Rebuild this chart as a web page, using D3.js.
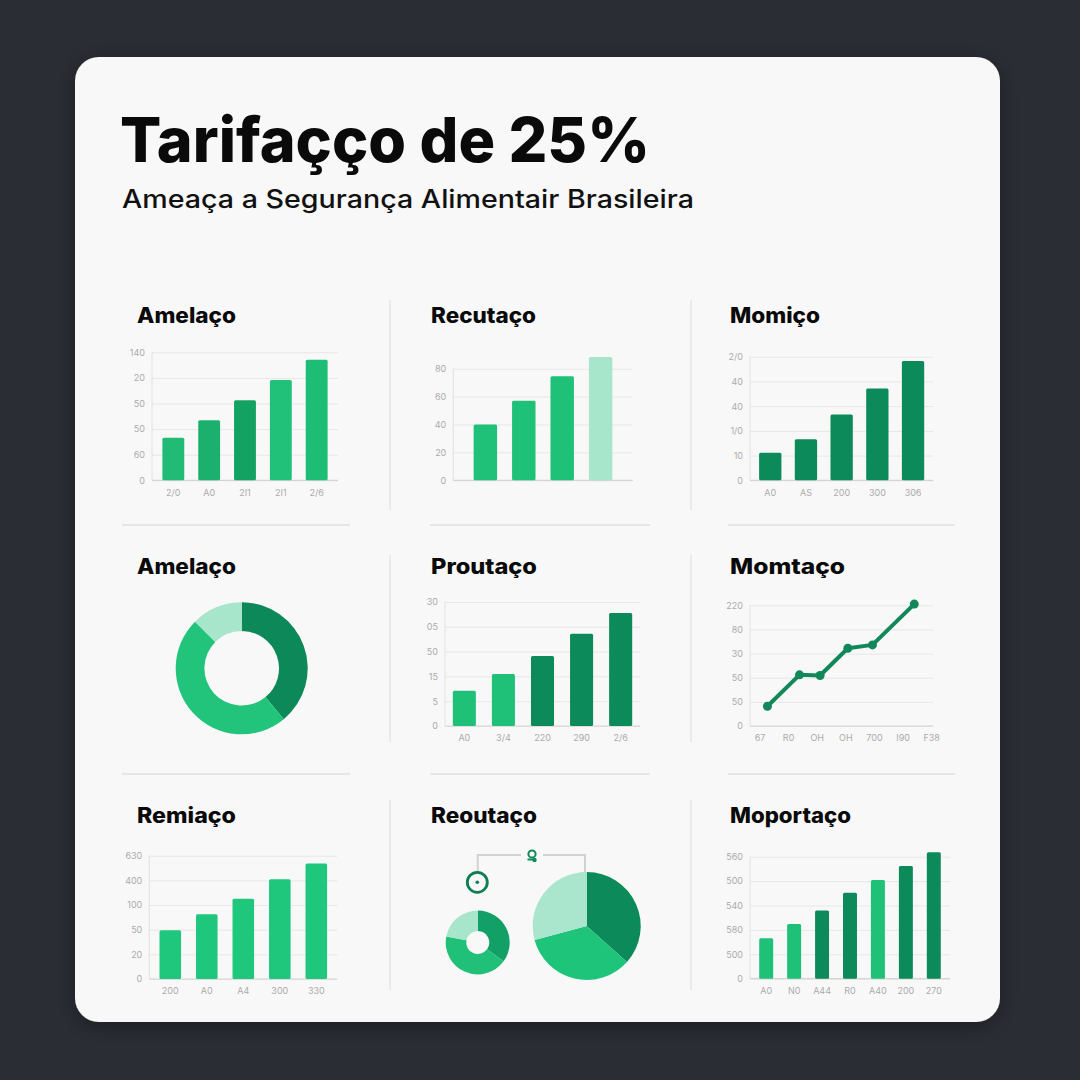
<!DOCTYPE html>
<html>
<head>
<meta charset="utf-8">
<script src="https://cdn.jsdelivr.net/npm/d3@7/dist/d3.min.js"></script>
<style>
  body { margin: 0; background: #2a2d34; }
  svg { display: block; }
  .tick text { font-family: Inter, "Noto Sans", sans-serif; }
</style>
</head>
<body>
<div id="chart"></div>
<script>
// ---------------- data ----------------
const mainTitle = 'Tarifaçço de 25%';
const subTitle = 'Ameaça a Segurança Alimentair Brasileira';
const panelTitles = ['Amelaço', 'Recutaço', 'Momiço', 'Amelaço', 'Proutaço', 'Momtaço', 'Remiaço', 'Reoutaço', 'Moportaço'];

// panel 1 - bars
const p1Cats = ['2/0', 'A0', '2I1', '2I1', '2/6'];
const p1Values = [16.6, 23.5, 31.3, 39.2, 47.1];
const p1Ticks = ['0', '60', '50', '50', '20', '140'];

// panel 2 - bars
const p2Cats = ['', '', '', ''];
const p2Values = [40, 57.1, 74.5, 88.3];
const p2Ticks = ['0', '20', '40', '60', '80'];

// panel 3 - bars
const p3Cats = ['A0', 'AS', '200', '300', '306'];
const p3Values = [11.1, 16.6, 26.6, 37.1, 48.3];
const p3Ticks = ['0', '10', '1/0', '40', '40', '2/0'];

// panel 4 - donut
const p4Values = [39, 48.5, 12.5];

// panel 5 - bars
const p5Cats = ['A0', '3/4', '220', '290', '2/6'];
const p5Values = [7.1, 10.5, 14.1, 18.6, 22.8];
const p5Ticks = ['0', '5', '15', '50', '05', '30'];

// panel 6 - line
const p6Cats = ['67', 'R0', 'OH', 'OH', '700', 'I90', 'F38'];
const p6X = [0.26, 1.38, 2.1, 3.07, 3.93, 5.39];
const p6Values = [8.2, 21.2, 20.9, 32.2, 33.6, 50.5];
const p6Ticks = ['0', '50', '50', '30', '80', '220'];

// panel 7 - bars
const p7Cats = ['200', 'A0', 'A4', '300', '330'];
const p7Values = [19.8, 26.3, 32.5, 40.4, 46.8];
const p7Ticks = ['0', '20', '50', '100', '400', '630'];

// panel 8 - small donut + pie
const p8SmallValues = [35, 43, 22];
const p8PieValues = [36.6, 34.2, 29.2];

// panel 9 - bars
const p9Cats = ['A0', 'N0', 'A44', 'R0', 'A40', '200', '270'];
const p9Values = [16.6, 22.4, 28, 35.2, 40.4, 46.2, 51.8];
const p9Ticks = ['0', '500', '580', '540', '500', '560'];

// ---------------- colours / layout ----------------
const DARK = '#0d8a5a', MID = '#1fc078', LIGHT = '#a8e6cc';
const TICK = '#ababab';
const titleX = [137, 431, 730];
const titleY = [323, 574, 823];
const titleW = [99, 105, 90, 99, 106, 115, 99, 106, 121];

const svg = d3.select('#chart').append('svg')
    .attr('width', 1080).attr('height', 1080);

svg.append('rect').attr('width', 1080).attr('height', 1080).attr('fill', '#2a2d34');

// card shadow + card
const defs = svg.append('defs');
const f = defs.append('filter').attr('id', 'shadow').attr('x', -0.1).attr('y', -0.1).attr('width', 1.2).attr('height', 1.2);
f.append('feDropShadow').attr('dx', 0).attr('dy', 4).attr('stdDeviation', 10).attr('flood-color', '#000').attr('flood-opacity', 0.35);

svg.append('rect')
    .attr('x', 75).attr('y', 57).attr('width', 925).attr('height', 965)
    .attr('rx', 24).attr('fill', '#f8f8f8')
    .attr('filter', 'url(#shadow)');

// titles
svg.append('text')
    .attr('x', 120).attr('y', 162)
    .attr('textLength', 530).attr('lengthAdjust', 'spacingAndGlyphs')
    .style('font-family', 'Inter, sans-serif').style('font-weight', 800)
    .style('font-size', '62px').style('fill', '#0a0a0a')
    .text(mainTitle);

svg.append('text')
    .attr('x', 122).attr('y', 208)
    .attr('textLength', 572).attr('lengthAdjust', 'spacingAndGlyphs')
    .style('font-family', 'Inter, sans-serif').style('font-weight', 500)
    .style('font-size', '25px').style('fill', '#111')
    .text(subTitle);

// separators
const sepColor = '#e6e6e6';
[[122, 350], [430, 650], [728, 955]].forEach(s => {
    [525, 774].forEach(y => {
        svg.append('line').attr('x1', s[0]).attr('x2', s[1]).attr('y1', y).attr('y2', y)
            .attr('stroke', sepColor).attr('stroke-width', 2);
    });
});
[390, 691].forEach(x => {
    [[300, 510], [555, 742], [800, 990]].forEach(r => {
        svg.append('line').attr('x1', x).attr('x2', x).attr('y1', r[0]).attr('y2', r[1])
            .attr('stroke', sepColor).attr('stroke-width', 1.5);
    });
});

// panel titles
panelTitles.forEach((t, i) => {
    svg.append('text')
        .attr('x', titleX[i % 3]).attr('y', titleY[Math.floor(i / 3)])
        .attr('textLength', titleW[i]).attr('lengthAdjust', 'spacingAndGlyphs')
        .style('font-family', 'Inter, sans-serif').style('font-weight', 800)
        .style('font-size', '21px').style('fill', '#0a0a0a')
        .text(t);
});

////////////////////////////////////////////////////////
function yAxisGrid(g, y, tickLabels, step, x0, x1) {
    const vals = tickLabels.map((d, i) => i * step);
    const ax = g.append('g')
        .attr('transform', 'translate(' + x0 + ',0)')
        .call(d3.axisLeft(y).tickValues(vals).tickSize(-(x1 - x0)).tickPadding(7)
            .tickFormat((d, i) => tickLabels[i]));
    ax.select('.domain').remove();
    ax.selectAll('.tick line').attr('stroke', '#e7e7e7').attr('stroke-width', 1);
    ax.selectAll('.tick text').style('font-size', '9px').style('fill', TICK);
    // baseline + left line
    g.append('line').attr('x1', x0).attr('x2', x1).attr('y1', y(0)).attr('y2', y(0))
        .attr('stroke', '#d4d4d4').attr('stroke-width', 1.2);
    g.append('line').attr('x1', x0).attr('x2', x0).attr('y1', y(0)).attr('y2', y(vals[vals.length - 1]))
        .attr('stroke', '#e2e2e2').attr('stroke-width', 1);
}

function barPanel(cfg) {
    const g = svg.append('g');
    const y = d3.scaleLinear().domain([0, cfg.max]).range([cfg.yBase, cfg.yTop]);
    const x = d3.scaleBand()
        .domain(cfg.values.map((d, i) => i))
        .range([cfg.x0, cfg.x1])
        .paddingInner(cfg.pi).paddingOuter(cfg.po);

    yAxisGrid(g, y, cfg.ticks, cfg.step, cfg.x0, cfg.x1);

    if (cfg.cats.some(c => c !== '')) {
        const xa = g.append('g')
            .attr('transform', 'translate(0,' + cfg.yBase + ')')
            .call(d3.axisBottom(x).tickSize(0).tickPadding(9).tickFormat(i => cfg.cats[i]));
        xa.select('.domain').remove();
        xa.selectAll('.tick text').style('font-size', '9px').style('fill', TICK);
    }

    g.selectAll('.bar')
        .data(cfg.values)
        .enter().append('rect')
        .attr('x', (d, i) => x(i))
        .attr('width', x.bandwidth())
        .attr('y', d => y(d))
        .attr('height', d => y(0) - y(d))
        .attr('rx', 1.5)
        .style('fill', (d, i) => cfg.colors[i]);
}

function donut(cx, cy, r0, r1, values, colors) {
    const pie = d3.pie().sort(null).value(d => d);
    const arc = d3.arc().innerRadius(r0).outerRadius(r1);
    svg.append('g').attr('transform', 'translate(' + cx + ',' + cy + ')')
        .selectAll('path')
        .data(pie(values))
        .enter().append('path')
        .attr('d', arc)
        .style('fill', (d, i) => colors[i]);
}

// ---------------- row 1 ----------------
barPanel({
    x0: 152, x1: 338, yTop: 352.3, yBase: 480.3, max: 50, step: 10, pi: 0.39, po: 0.29,
    values: p1Values, cats: p1Cats, ticks: p1Ticks,
    colors: ['#22bb75', '#1bb06d', '#14a263', '#21c179', '#1ebd76']
});

barPanel({
    x0: 453.3, x1: 632.7, yTop: 368.7, yBase: 480.3, max: 80, step: 20, pi: 0.39, po: 0.53,
    values: p2Values, cats: p2Cats, ticks: p2Ticks,
    colors: [MID, MID, MID, LIGHT]
});

barPanel({
    x0: 750, x1: 933.3, yTop: 356.7, yBase: 480.3, max: 50, step: 10, pi: 0.375, po: 0.255,
    values: p3Values, cats: p3Cats, ticks: p3Ticks,
    colors: p3Values.map(() => DARK)
});

// ---------------- row 2 ----------------
donut(241.7, 668.3, 37.3, 66, p4Values, ['#0c8859', '#22c47c', LIGHT]);

barPanel({
    x0: 445, x1: 640, yTop: 602, yBase: 726, max: 25, step: 5, pi: 0.41, po: 0.2,
    values: p5Values, cats: p5Cats, ticks: p5Ticks,
    colors: [MID, MID, DARK, DARK, DARK]
});

// line panel
(function () {
    const g = svg.append('g');
    const x0 = 750, x1 = 933.3;
    const y = d3.scaleLinear().domain([0, 50]).range([726, 605.3]);
    const x = d3.scaleLinear().domain([0, 6]).range([760, 931.7]);
    yAxisGrid(g, y, p6Ticks, 10, x0, x1);

    g.selectAll('.xl')
        .data(p6Cats)
        .enter().append('text')
        .attr('x', (d, i) => x(i))
        .attr('y', 741)
        .attr('text-anchor', 'middle')
        .style('font-family', 'Inter, sans-serif')
        .style('font-size', '9px').style('fill', TICK)
        .text(d => d);

    const pts = p6Values.map((v, i) => [p6X[i], v]);
    g.append('path')
        .datum(pts)
        .attr('d', d3.line().x(d => x(d[0])).y(d => y(d[1])))
        .attr('fill', 'none').attr('stroke', '#12875a').attr('stroke-width', 4)
        .attr('stroke-linejoin', 'round');
    g.selectAll('circle')
        .data(pts)
        .enter().append('circle')
        .attr('cx', d => x(d[0])).attr('cy', d => y(d[1]))
        .attr('r', 4.5).attr('fill', '#12875a');
})();

// ---------------- row 3 ----------------
barPanel({
    x0: 149.3, x1: 337.3, yTop: 855.7, yBase: 979, max: 50, step: 10, pi: 0.41, po: 0.28,
    values: p7Values, cats: p7Cats, ticks: p7Ticks,
    colors: p7Values.map(() => '#1ec77c')
});

// panel 8: connector, icons, donut and pie
(function () {
    const g = svg.append('g');
    g.append('path')
        .attr('d', 'M477.7,871 V855 H521')
        .attr('fill', 'none').attr('stroke', '#d2d2d2').attr('stroke-width', 2);
    g.append('path')
        .attr('d', 'M543,855 H585 V872')
        .attr('fill', 'none').attr('stroke', '#d2d2d2').attr('stroke-width', 2);
    // small bell-like icon
    g.append('circle').attr('cx', 532).attr('cy', 854).attr('r', 3.6)
        .attr('fill', 'none').attr('stroke', '#118a5a').attr('stroke-width', 2);
    g.append('circle').attr('cx', 534.5).attr('cy', 860).attr('r', 2.2).attr('fill', '#118a5a');
    g.append('path').attr('d', 'M527.5,859.5 H536').attr('stroke', '#118a5a').attr('stroke-width', 2);
    // target icon
    g.append('circle').attr('cx', 477.3).attr('cy', 882.3).attr('r', 10)
        .attr('fill', '#f8f8f8').attr('stroke', '#0e7d52').attr('stroke-width', 2.8);
    g.append('circle').attr('cx', 477.3).attr('cy', 882.3).attr('r', 1.8).attr('fill', '#0e7d52');
})();
donut(477.7, 942.5, 11.5, 32, p8SmallValues, ['#12a066', '#20c079', LIGHT]);
donut(586.7, 926, 0, 54, p8PieValues, [DARK, '#1fc47b', '#a9e6cd']);

barPanel({
    x0: 750, x1: 950, yTop: 856.7, yBase: 978.7, max: 50, step: 10, pi: 0.5, po: 0.33,
    values: p9Values, cats: p9Cats, ticks: p9Ticks,
    colors: [MID, MID, DARK, DARK, MID, DARK, DARK]
});
</script>
</body>
</html>
